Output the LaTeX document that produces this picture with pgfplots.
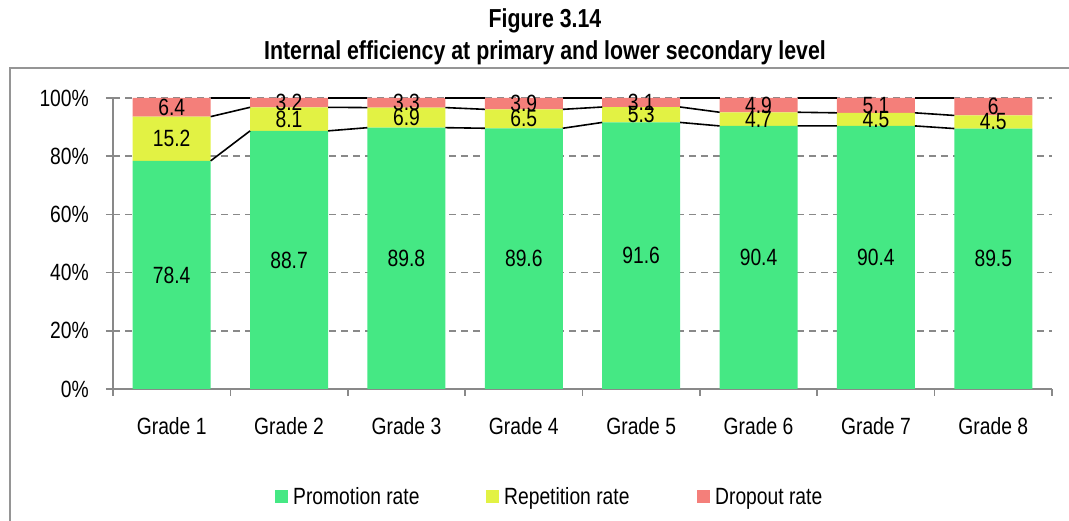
\documentclass[border=0pt]{standalone}
\usepackage{pgfplots}
\pgfplotsset{compat=1.18}
\usepackage{pgfplotstable}
\usepackage{fontspec}
\setmainfont{Liberation Sans}[FakeStretch=0.82]

\definecolor{cgreen}{HTML}{45E884}
\definecolor{cyellow}{HTML}{E2F244}
\definecolor{cred}{HTML}{F47F7A}
\definecolor{cgray}{HTML}{898989}

\pgfplotstableread{
x promo rep drop
0 78.4 15.2 6.4
1 88.7 8.1 3.2
2 89.8 6.9 3.3
3 89.6 6.5 3.9
4 91.6 5.3 3.1
5 90.4 4.7 4.9
6 90.4 4.5 5.1
7 89.5 4.5 6
}\data

\newcommand\fs{\fontsize{23.5}{28}\selectfont}
\pgfplotsset{sqleg/.style={legend image code/.code={\fill[##1] (0pt,-6.5pt) rectangle (13pt,6.5pt);}}}

\begin{document}
\begin{tikzpicture}[x=1pt,y=1pt]
\clip (0,0) rectangle (1069,521);
\draw[cgray!90, line width=2pt] (9.5,452.5) rectangle (1200,-100);
\node[anchor=base, font=\fontsize{26}{30}\selectfont\bfseries] at (545,493) {Figure 3.14};
\node[anchor=base, font=\fontsize{26}{30}\selectfont\bfseries] at (545,461) {Internal efficiency at primary and lower secondary level};

\begin{axis}[
  at={(113pt,132pt)}, anchor=south west, scale only axis,
  width=939pt, height=291pt,
  xmin=-0.5, xmax=7.5, ymin=0, ymax=100,
  ybar stacked, bar width=78pt,
  axis x line*=bottom, axis y line*=left,
  axis line style={cgray, line width=1.6pt},
  tick align=outside, major tick length=7pt, minor tick length=7pt,
  xtick={0,...,7},
  xticklabels={Grade 1,Grade 2,Grade 3,Grade 4,Grade 5,Grade 6,Grade 7,Grade 8},
  minor xtick={-0.5,0.5,...,7.5},
  every major x tick/.append style={draw=none},
  every minor x tick/.append style={cgray, line width=1.6pt},
  every major y tick/.append style={cgray, line width=1.6pt},
  ytick={0,20,...,100},
  yticklabel={\pgfmathprintnumber{\tick}\%},
  /pgf/number format/assume math mode=true,
  tick label style={font=\fs, text=black},
  yticklabel style={anchor=east, inner sep=0pt, xshift=-17pt},
  xticklabel style={anchor=base, inner sep=0pt, yshift=-39pt},
  ymajorgrids,
  major grid style={cgray, dash pattern=on 7pt off 5pt, line width=1.6pt},
  legend columns=3,
  legend style={draw=none, fill=none, at={(axis description cs:0.1725,-0.371)}, anchor=west,
    inner sep=0pt, column sep=5pt, nodes={inner sep=0pt}, font=\fs},
]
\addplot[fill=cgreen, draw=none, sqleg] table[x=x,y=promo]{\data};
\addlegendentry{\makebox[188pt][l]{Promotion rate}}
\addplot[fill=cyellow, draw=none, sqleg] table[x=x,y=rep]{\data};
\addlegendentry{\makebox[188pt][l]{Repetition rate}}
\addplot[fill=cred, draw=none, sqleg] table[x=x,y=drop]{\data};
\addlegendentry{\makebox[100pt][l]{Dropout rate}}
\end{axis}

\begin{axis}[
  at={(113pt,132pt)}, anchor=south west, scale only axis,
  width=939pt, height=291pt,
  xmin=-0.5, xmax=7.5, ymin=0, ymax=100,
  hide axis, clip=false,
  unbounded coords=jump,
  /pgf/number format/assume math mode=true,
  every node near coord/.append style={font=\fs, anchor=center, inner sep=0pt, text=black},
]
\addplot[black, line width=1.6pt] coordinates {(0.332,78.4) (0.668,88.7) (1,nan) (1.332,88.7) (1.668,89.8) (2,nan) (2.332,89.8) (2.668,89.6) (3,nan) (3.332,89.6) (3.668,91.6) (4,nan) (4.332,91.6) (4.668,90.4) (5,nan) (5.332,90.4) (5.668,90.4) (6,nan) (6.332,90.4) (6.668,89.5)};
\addplot[black, line width=1.6pt] coordinates {(0.332,93.6) (0.668,96.8) (1,nan) (1.332,96.8) (1.668,96.7) (2,nan) (2.332,96.7) (2.668,96.1) (3,nan) (3.332,96.1) (3.668,96.9) (4,nan) (4.332,96.9) (4.668,95.1) (5,nan) (5.332,95.1) (5.668,94.9) (6,nan) (6.332,94.9) (6.668,94.0)};
\addplot[black, line width=1.6pt] coordinates {(0.332,100) (0.668,100) (1,nan) (1.332,100) (1.668,100) (2,nan) (2.332,100) (2.668,100) (3,nan) (3.332,100) (3.668,100) (4,nan) (4.332,100) (4.668,100) (5,nan) (5.332,100) (5.668,100) (6,nan) (6.332,100) (6.668,100)};
\addplot[draw=none, nodes near coords, point meta=\thisrow{promo}] table[x=x, y expr=\thisrow{promo}/2]{\data};
\addplot[draw=none, nodes near coords, point meta=\thisrow{rep}] table[x=x, y expr=\thisrow{promo}+\thisrow{rep}/2]{\data};
\addplot[draw=none, nodes near coords, point meta=\thisrow{drop}] table[x=x, y expr=\thisrow{promo}+\thisrow{rep}+\thisrow{drop}/2]{\data};
\end{axis}
\end{tikzpicture}
\end{document}
